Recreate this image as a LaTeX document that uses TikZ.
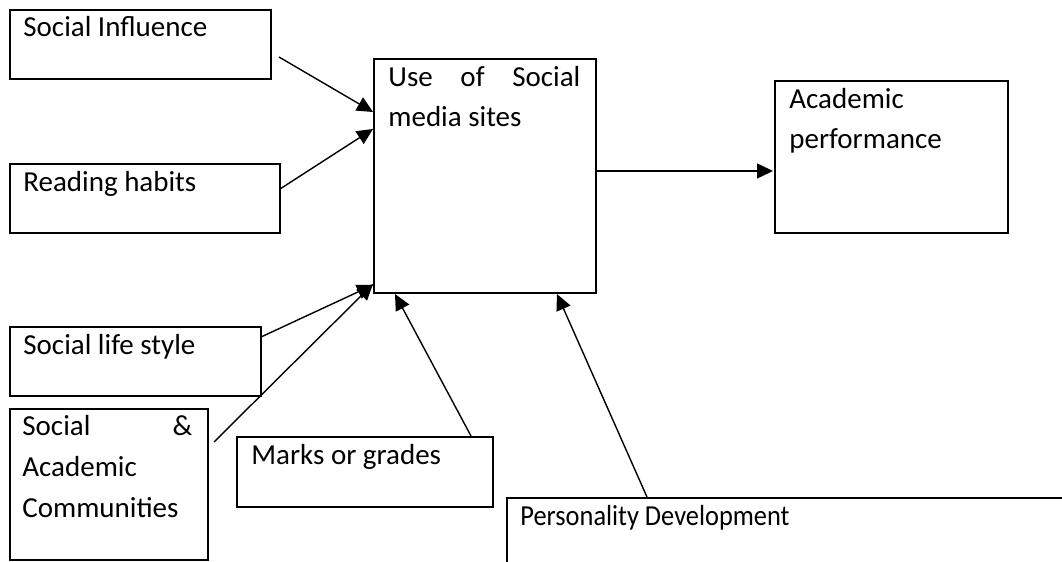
\documentclass[tikz,border=0pt]{standalone}
\usepackage{fontspec}
\setmainfont{Carlito}
\usetikzlibrary{arrows.meta,calc,fit}

\begin{document}
\begin{tikzpicture}[x=0.5pt, y=-0.5pt,
  box/.style={draw, line width=1pt, inner sep=0pt},
  txt/.style={anchor=base west, inner sep=0pt, align=flush left, font=\fontsize{14.5}{20.5}\selectfont},
  arr/.style={line width=0.7pt, -{Triangle[length=8pt, width=7.5pt]}}]
  \useasboundingbox (0,0) rectangle (1062,562);

  % Draw the boxes
  \node[box, fit={(10,10) (271,79)}] (infl) {};
  \node[box, fit={(10,164) (280,233)}] (read) {};
  \node[box, fit={(10,327) (261,396)}] (life) {};
  \node[box, fit={(10,409) (208,560)}] (comm) {};
  \node[box, fit={(237,437) (493,507)}] (marks) {};
  \node[box, fit={(507,498) (1100,620)}] (pers) {};
  \node[box, fit={(374,59) (596,293)}] (use) {};
  \node[box, fit={(775,81) (1008,233)}] (acad) {};

  % texts in the boxes
  \node[txt] (inflt) at ($(infl.north west)+(14,28)$) {Social Influence};
  \node[txt] (readt) at ($(read.north west)+(14,28)$) {Reading habits};
  \node[txt] (lifet) at ($(life.north west)+(14,28)$) {Social life style};
  \node[txt, text width=85pt] (commt) at ($(comm.north west)+(13,27)$)
    {Social\hfill \&\\Academic\\Communities};
  \node[txt] (markst) at ($(marks.north west)+(15,28)$) {Marks or grades};
  \node[txt] (perst) at ($(pers.north west)+(14,28)$)
    {\scalebox{0.91}[1]{Personality Development}};
  \node[txt, text width=96pt] (uset) at ($(use.north west)+(15,28)$)
    {Use\hfill of\hfill Social\\media sites};
  \node[txt, text width=100pt] (acadt) at ($(acad.north west)+(15,28)$)
    {Academic\\performance};

  % Draw arrows
  \draw[arr] ($(infl.east)+(7,12.5)$) -- ($(use.north west)+(0,54)$);
  \draw[arr] ($(read.east)+(-1,-9.5)$) -- ($(use.north west)+(0,71)$);
  \draw[arr] ($(life.east)+(-1,-24.5)$) -- ($(use.south west)+(0,-9)$);
  \draw[arr] ($(comm.north east)+(5,34)$) -- ($(use.south west)+(0,-10)$);
  \draw[arr] ($(marks.north east)+(-23,0)$) -- ($(use.south west)+(22,0)$);
  \draw[arr] ($(pers.north west)+(141,0)$) -- ($(use.south west)+(184,0)$);
  \draw[arr] ($(use.east)+(0,-5)$) -- ($(acad.west)+(-1,14)$);
\end{tikzpicture}
\end{document}
